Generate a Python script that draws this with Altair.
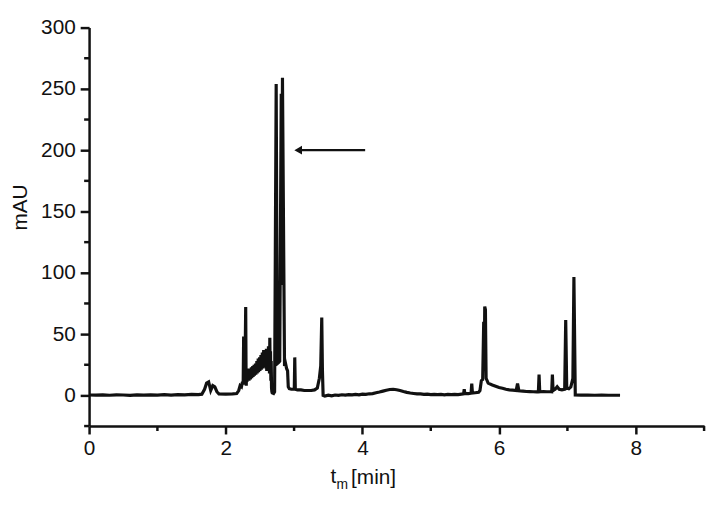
import altair as alt
import pandas as pd

# Chromatogram trace: retention time [min] and absorbance [mAU]
# segment 1: baseline, small bumps near 1.75 min and the spikes near 2.26 / 2.29 min
T1 = [0.00, 0.10, 0.20, 0.30, 0.40, 0.50, 0.60, 0.70, 0.80, 0.90, 1.00, 1.10, 1.20, 1.30, 1.40, 1.50, 1.60, 1.65,
      1.69, 1.72, 1.75, 1.78, 1.81, 1.84, 1.87, 1.90, 2.00, 2.10, 2.16, 2.19, 2.21, 2.23, 2.245, 2.255, 2.262,
      2.268, 2.28, 2.292, 2.298]
V1 = [0.3, 0.2, 0.5, 0.1, 0.4, 0.3, 0.0, 0.4, 0.2, 0.5, 0.3, 0.6, 0.2, 0.7, 0.4, 0.9, 0.6, 1.0,
      5, 10, 11, 4, 8, 7, 3, 1.2, 1.0, 1.2, 1.5, 4, 8, 7, 11, 9, 48,
      12, 14, 72, 10]
# segment 2: the jagged hump between 2.3 and 2.7 min
T2 = [2.300, 2.305, 2.310, 2.315, 2.320, 2.325, 2.330, 2.335, 2.340, 2.345, 2.350, 2.355, 2.360, 2.365,
      2.370, 2.375, 2.380, 2.385, 2.390, 2.395, 2.400, 2.405, 2.410, 2.415, 2.420, 2.425, 2.430, 2.435,
      2.440, 2.445, 2.450, 2.455, 2.460, 2.465, 2.470, 2.475, 2.480, 2.485, 2.490, 2.495, 2.500, 2.505,
      2.510, 2.515, 2.520, 2.525, 2.530, 2.535, 2.540, 2.545, 2.550, 2.555, 2.560, 2.565, 2.570, 2.575,
      2.580, 2.585, 2.590, 2.595, 2.600, 2.605, 2.610, 2.615, 2.620, 2.625, 2.630, 2.635, 2.640, 2.645,
      2.650, 2.655, 2.660, 2.665, 2.670, 2.675, 2.680]
V2 = [8, 20, 11, 22, 12, 18, 13, 21, 12, 19, 14, 22, 13, 20,
      15, 23, 14, 21, 16, 24, 15, 22, 17, 25, 16, 23, 18, 26,
      17, 24, 19, 28, 18, 26, 20, 30, 19, 27, 21, 31, 20, 29,
      22, 33, 21, 30, 23, 35, 22, 31, 24, 37, 23, 32, 25, 36,
      24, 34, 22, 38, 20, 31, 23, 35, 21, 40, 22, 30, 18, 47,
      20, 36, 12, 28, 6, 3, 2]
# segment 3: main peaks and everything after them
T3 = [2.70, 2.715, 2.738, 2.755, 2.775, 2.79, 2.812, 2.818, 2.83, 2.86, 2.875, 2.89, 2.905,
      2.915, 2.93, 2.96, 2.99, 3.003, 3.01, 3.018, 3.05, 3.10, 3.15, 3.20, 3.25, 3.30, 3.34, 3.37, 3.39, 3.405,
      3.415, 3.425, 3.45, 3.50, 3.55, 3.60, 3.65, 3.70, 3.75, 3.80, 3.85, 3.90, 3.95, 4.00, 4.05, 4.10, 4.15, 4.20,
      4.25, 4.30, 4.35, 4.40, 4.45, 4.50, 4.55, 4.60, 4.65, 4.70, 4.75, 4.80, 4.85, 4.90, 4.95, 5.00, 5.05, 5.10,
      5.15, 5.20, 5.25, 5.30, 5.35, 5.40, 5.45, 5.48, 5.49, 5.50, 5.55, 5.59, 5.60, 5.61, 5.65, 5.70, 5.72, 5.74,
      5.76, 5.775, 5.783, 5.79, 5.80, 5.81, 5.84, 5.90, 5.95, 6.00, 6.05, 6.10, 6.15, 6.20, 6.25, 6.27, 6.29, 6.35,
      6.40, 6.45, 6.50, 6.55, 6.575, 6.585, 6.595, 6.65, 6.70, 6.75, 6.77, 6.78, 6.79, 6.82, 6.85, 6.88, 6.92, 6.96,
      6.975, 6.99, 7.02, 7.05, 7.08, 7.095, 7.115, 7.20, 7.30, 7.40, 7.50, 7.60, 7.77]
V3 = [1.5, 3, 254, 26, 27, 28, 246, 90, 259, 24, 26, 22, 20,
      7, 5.5, 5, 5, 5, 31, 5, 4.5, 4.5, 4, 4, 4, 4.5, 6, 14, 24, 63.5,
      20, 0, -0.5, 0.2, -0.3, 0.3, 0, 0.5, 0.2, 0.6, 0.4, 0.8, 0.5, 1.0, 0.8, 1.3, 1.5, 2.2,
      2.8, 3.5, 4.2, 4.8, 5.0, 4.6, 4.0, 3.2, 2.5, 2.0, 1.6, 1.2, 1.3, 0.9, 1.1, 0.7, 0.9, 0.6,
      0.8, 0.5, 0.8, 0.6, 0.9, 0.7, 1.0, 1.2, 5, 1.4, 1.5, 1.8, 9.7, 2, 2.2, 2.5, 4, 12,
      13, 60, 20, 72.5, 70, 14, 10, 8.5, 7.5, 6.5, 5.8, 5.0, 4.5, 4.3, 4.0, 9.6, 3.8, 3.5,
      3.2, 3.1, 3.0, 2.9, 3, 17, 3, 3.2, 3.0, 3.1, 3, 17, 4, 5, 7, 5, 4.5, 5,
      61.5, 6, 5.5, 7, 14, 96.5, 0.3, 0.2, 0.2, 0.1, 0.2, 0.1, 0.1]

X_MAJOR = [0, 2, 4, 6, 8]
X_MINOR = [1, 3, 5, 7, 9]
Y_MAJOR = [0, 50, 100, 150, 200, 250, 300]
Y_MINOR = [-25, 25, 75, 125, 175, 225, 275]
ARROW_TAIL = [4.04]
ARROW_HEAD = [3.06]
ARROW_Y = [200]
TITLE_PARTS = ["t", "m", "[min]", "mAU"]

FONT = "Liberation Sans"
INK = "#111"

T = T1 + T2 + T3
V = V1 + V2 + V3
trace = pd.DataFrame({"t": T, "mAU": V, "i": list(range(len(T)))})
arrow = pd.DataFrame({"x": ARROW_HEAD, "x2": ARROW_TAIL, "y": ARROW_Y})
xminor = pd.DataFrame({"v": X_MINOR})
yminor = pd.DataFrame({"v": Y_MINOR})

xscale = alt.Scale(domain=[0, 9], nice=False)
yscale = alt.Scale(domain=[-25, 300], nice=False)

xaxis = alt.Axis(
    values=X_MAJOR, title=None, grid=False, format="d", labelFlush=False,
    tickSize=8, tickWidth=2.5, domainWidth=2.5, domainColor=INK, tickColor=INK,
    labelFont=FONT, labelFontSize=21, labelColor=INK, labelPadding=4,
)
yaxis = alt.Axis(
    values=Y_MAJOR, title=None, grid=False, format="d", labelFlush=False,
    tickSize=9, tickWidth=2.5, domainWidth=2.5, domainColor=INK, tickColor=INK,
    labelFont=FONT, labelFontSize=21, labelColor=INK, labelPadding=5,
)


def X(field):
    return alt.X(field, scale=xscale, axis=xaxis)


def Y(field):
    return alt.Y(field, scale=yscale, axis=yaxis)


line = alt.Chart(trace).mark_line(color=INK, strokeWidth=3.2, clip=True, strokeJoin="miter").encode(
    x=X("t:Q"), y=Y("mAU:Q"), order="i:Q",
)

shaft = alt.Chart(arrow).mark_rule(color=INK, strokeWidth=2.3).encode(
    x=X("x:Q"), x2="x2:Q", y=Y("y:Q"),
)
head = alt.Chart(arrow).mark_point(shape="triangle-left", filled=True, color=INK, opacity=1, size=80).encode(
    x=X("x:Q"), y=Y("y:Q"),
)

xminor_ticks = alt.Chart(xminor).mark_rule(color=INK, strokeWidth=2.5).encode(
    x=X("v:Q"), y=alt.value(403), y2=alt.value(408),
)
yminor_ticks = alt.Chart(yminor).mark_rule(color=INK, strokeWidth=2.5).encode(
    y=Y("v:Q"), x=alt.value(-5), x2=alt.value(0),
)

one = pd.DataFrame({"a": [0]})
t_txt = alt.Chart(one).mark_text(text=TITLE_PARTS[0], font=FONT, fontSize=21, color=INK,
                                 align="center", baseline="alphabetic").encode(
    x=alt.value(247), y=alt.value(461))
m_txt = alt.Chart(one).mark_text(text=TITLE_PARTS[1], font=FONT, fontSize=14, color=INK,
                                 align="center", baseline="alphabetic").encode(
    x=alt.value(256), y=alt.value(467))
min_txt = alt.Chart(one).mark_text(text=TITLE_PARTS[2], font=FONT, fontSize=21, color=INK,
                                   align="left", baseline="alphabetic").encode(
    x=alt.value(265), y=alt.value(462))
y_txt = alt.Chart(one).mark_text(text=TITLE_PARTS[3], font=FONT, fontSize=21, color=INK,
                                 align="center", baseline="middle", angle=270).encode(
    x=alt.value(-69), y=alt.value(182))

chart = alt.layer(line, shaft, head, xminor_ticks, yminor_ticks, t_txt, m_txt, min_txt, y_txt).properties(
    width=622, height=403,
    background="white",
    autosize=alt.AutoSizeParams(type="none"),
    padding={"left": 82, "top": 17, "right": 8, "bottom": 75},
).configure_view(stroke=None)

chart.save("out.html", embed_options={"renderer": "svg", "actions": False})
